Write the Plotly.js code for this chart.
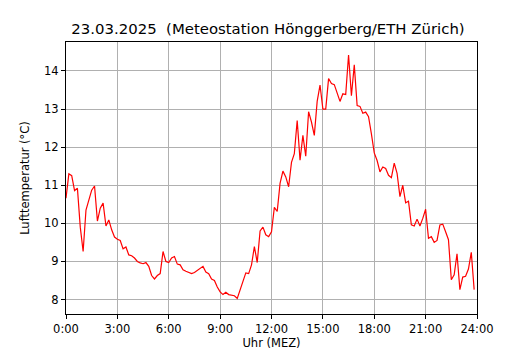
<!DOCTYPE html>
<html>
<head>
<meta charset="utf-8">
<script src="https://cdn.plot.ly/plotly-3.0.1.min.js"></script>
<style>html,body{margin:0;padding:0;background:#fff;}#chart{width:530px;height:350px;}</style>
</head>
<body>
<div id="chart"></div>
<script>
// 10-minute temperature readings, 00:00 .. 23:50
const temperature = [
  10.66, 11.30, 11.25, 10.86, 10.92, 9.90, 9.26, 10.35, 10.61, 10.87,
  10.98, 10.06, 10.40, 10.53, 9.93, 10.09, 9.83, 9.64, 9.58, 9.55,
  9.33, 9.38, 9.17, 9.15, 9.09, 9.00, 8.96, 8.94, 8.97, 8.87,
  8.63, 8.54, 8.63, 8.68, 9.26, 9.00, 8.97, 9.09, 9.13, 8.93,
  8.91, 8.78, 8.74, 8.72, 8.68, 8.71, 8.76, 8.82, 8.87, 8.72,
  8.68, 8.54, 8.50, 8.33, 8.20, 8.13, 8.19, 8.13, 8.12, 8.10,
  8.03, 8.26, 8.48, 8.70, 8.68, 8.91, 9.39, 8.97, 9.80, 9.90,
  9.70, 9.65, 9.78, 10.42, 10.31, 11.05, 11.37, 11.22, 10.96, 11.60,
  11.83, 12.70, 11.66, 12.31, 11.76, 12.93, 12.66, 12.31, 13.20, 13.63,
  13.00, 13.00, 13.80, 13.67, 13.64, 13.40, 13.20, 13.40, 13.38, 14.42,
  13.35, 14.16, 13.09, 13.07, 12.89, 12.92, 12.80, 12.35, 11.85, 11.65,
  11.35, 11.48, 11.44, 11.26, 11.20, 11.58, 11.31, 10.70, 11.00, 10.54,
  10.58, 9.96, 9.93, 10.11, 9.93, 10.13, 10.37, 9.61, 9.65, 9.50,
  9.55, 9.96, 9.98, 9.78, 9.57, 8.52, 8.65, 9.20, 8.26, 8.59,
  8.61, 8.80, 9.24, 8.26
];
const stepMinutes = 10;
const hours = temperature.map((_, i) => i * stepMinutes / 60);
const xTickVals = [0, 3, 6, 9, 12, 15, 18, 21, 24];
const xTickText = ["0:00", "3:00", "6:00", "9:00", "12:00", "15:00", "18:00", "21:00", "24:00"];
const yTickVals = [8, 9, 10, 11, 12, 13, 14];
const titleText = "23.03.2025  (Meteostation Hönggerberg/ETH Zürich)";

const font = "DejaVu Sans, sans-serif";
Plotly.newPlot("chart", [{
  x: hours, y: temperature, type: "scatter", mode: "lines",
  line: {color: "#ff0000", width: 1.2}, hoverinfo: "skip"
}], {
  width: 530, height: 350,
  margin: {l: 66, r: 53, t: 42, b: 36},
  paper_bgcolor: "#ffffff", plot_bgcolor: "#ffffff",
  showlegend: false,
  font: {family: font, color: "#000", size: 11},
  title: {text: titleText, font: {family: font, size: 14.9, color: "#000"},
          x: 0.4915, xanchor: "center", xref: "paper", y: 1 - 29/350, yanchor: "middle", yref: "container"},
  xaxis: {
    range: [0, 24], tickvals: xTickVals, ticktext: xTickText,
    showgrid: true, gridcolor: "#b0b0b0", gridwidth: 1,
    showline: true, linecolor: "#000", linewidth: 1, mirror: true,
    ticks: "outside", ticklen: 4, tickcolor: "#000",
    tickfont: {family: font, size: 11.5},
    zeroline: false,
    title: {text: "Uhr (MEZ)", font: {family: font, size: 11.5}, standoff: 6}
  },
  yaxis: {
    range: [7.62, 14.76], tickvals: yTickVals,
    showgrid: true, gridcolor: "#b0b0b0", gridwidth: 1,
    showline: true, linecolor: "#000", linewidth: 1, mirror: true,
    ticks: "outside", ticklen: 4, tickcolor: "#000",
    tickfont: {family: font, size: 11.5},
    zeroline: false,
    title: {text: "Lufttemperatur (°C)", font: {family: font, size: 11.5}, standoff: 12}
  }
}, {staticPlot: true, displayModeBar: false});
</script>
</body>
</html>
